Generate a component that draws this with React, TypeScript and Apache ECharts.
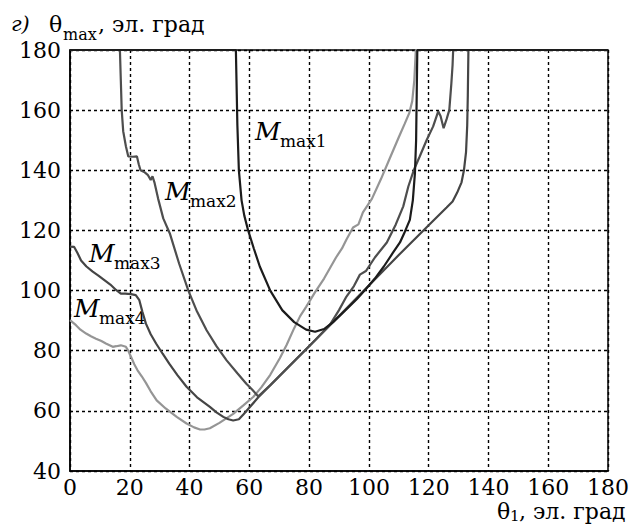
import React, { useEffect, useRef } from "react";
import * as echarts from "echarts";

const xTicks = [0, 20, 40, 60, 80, 100, 120, 140, 160, 180];
const yTicks = [40, 60, 80, 100, 120, 140, 160, 180];

const m1: number[][] = [
  [0, 180], [55.5, 180], [55.7, 170], [56, 155], [56.5, 140], [57.4, 130], [58.3, 125], [59.6, 120],
  [61.5, 114], [63.5, 108], [67, 100], [71, 93.5], [75, 89.5], [79, 87], [82, 86.3], [85, 87.2],
  [88, 89.5], [92, 93.3], [96, 97.2], [99, 100.5], [102, 104], [105, 108], [108, 112.5], [110.4, 116],
  [112, 119.5], [113.7, 123.5], [114.7, 130], [115.4, 139], [115.8, 150], [116, 165], [116.2, 180], [180, 180],
];

const m2: number[][] = [
  [0, 180], [16.7, 180], [17, 170], [17.3, 160], [17.8, 153], [18.7, 148], [19.5, 144.6], [21, 144.5],
  [22.4, 144.6], [23, 142], [23.6, 140], [25, 139.3], [26, 138.5], [27, 136.8], [27.6, 138], [28.3, 135.8],
  [29.5, 130.5], [31.2, 124], [33.4, 119], [36.5, 109], [39.6, 100], [42.5, 93], [45.7, 86.8], [49, 81.5],
  [52.4, 76.8], [56, 72.5], [59, 69], [61, 67], [63, 64.8], [67, 68.5], [72, 73.5], [77, 78.5], [82, 83.5],
  [87, 88.7], [90, 93.5], [92.5, 98], [95, 101.5], [97, 105.3], [99, 106.5], [102, 111], [106, 116],
  [109, 122], [111.5, 128], [113.2, 134.6], [115, 140], [117, 144.6], [119.3, 150], [121.5, 154.6],
  [123.2, 159.6], [124, 158], [125, 154], [126, 157], [126.9, 160], [127.6, 169], [128, 175], [128.2, 180],
  [180, 180],
];

const m3: number[][] = [
  [0, 114.6], [1.4, 114.5], [2.5, 112.5], [3.7, 110], [5.5, 108], [7.6, 106.3], [9.5, 105], [11.5, 103.5],
  [13.5, 102], [15.4, 100.2], [17, 99], [18.5, 99], [20.4, 98.8], [22, 98.5], [23.2, 96.8], [24.2, 93],
  [25.4, 89], [27, 85.5], [28.8, 82.4], [31, 79], [33.2, 75.7], [36, 71.8], [39, 68], [42.5, 64.5],
  [46.8, 61.3], [49, 59.5], [51.3, 58], [53, 57.2], [54.6, 56.8], [56.5, 57.2], [58, 58.8], [63, 64.5],
  [70, 71.5], [80, 81.5], [90, 91.5], [100, 101.7], [110, 111.8], [120, 121.7], [126, 127.6], [128, 129.6],
  [129.5, 132.5], [131, 136], [131.8, 140], [132.5, 146], [132.9, 155], [133.1, 165], [133.3, 180], [180, 180],
];

const m4: number[][] = [
  [0, 90.2], [2, 88.5], [3.5, 87], [5.4, 85.7], [7, 84.8], [8.7, 84], [10.5, 83.2], [12, 82.4],
  [14.3, 81.3], [15.5, 81.5], [17, 81.8], [18.7, 81.3], [19.5, 80], [20.4, 78], [21.5, 75.5], [22.6, 73.5],
  [24, 71.5], [25.4, 69.3], [27, 66.5], [29, 63.5], [32, 60.8], [35.7, 58], [39, 55.8], [41.5, 54.5],
  [43.5, 53.8], [45, 53.8], [46.8, 54.2], [50, 56], [54.6, 59], [58, 61.8], [61.3, 64.6], [64, 67.8],
  [67, 72], [70.2, 77.5], [72.5, 82], [75, 87.5], [77, 91.5], [79, 94.6], [82, 99.5], [85, 104],
  [87, 107.5], [89, 111], [91, 114], [92.5, 117], [94.7, 121], [96.5, 122], [98, 126], [101, 130.5],
  [104, 137], [107, 144], [110, 151], [112, 155.5], [113.5, 159], [114.5, 163], [115.2, 170], [115.7, 180],
  [180, 180],
];

const seriesNames = ["M_max1", "M_max2", "M_max3", "M_max4"];
const seriesData = [m1, m2, m3, m4];
const seriesColors = ["#1c1c1c", "#4e4e4e", "#454545", "#959595"];

const FAMILY = "DejaVu Serif";

function txt(x: number, y: number, text: string, size: number, italic = false) {
  return {
    type: "text",
    x,
    y,
    style: {
      text,
      fontFamily: FAMILY,
      fontSize: size,
      fontStyle: italic ? "italic" : "normal",
      fill: "#000",
      align: "left",
      verticalAlign: "middle",
    },
  };
}

function mLabel(x: number, baseline: number, sub: string) {
  return [txt(x, baseline - 8.5, "M", 25, true), txt(x + 25, baseline + 7 - 6, sub, 17)];
}

export default function App() {
  const ref = useRef<HTMLDivElement>(null);
  useEffect(() => {
    if (!ref.current) return;
    const chart = echarts.init(ref.current, null, { renderer: "svg" });
    const series = seriesData
      .map((d, i) => ({
        name: seriesNames[i],
        type: "line",
        data: d,
        showSymbol: false,
        clip: false,
        z: 10 - i,
        lineStyle: { color: seriesColors[i], width: 2.2 },
        itemStyle: { color: seriesColors[i] },
      }))
      .reverse();

    chart.setOption({
      animation: false,
      backgroundColor: "#fff",
      textStyle: { fontFamily: FAMILY },
      grid: {
        left: 70,
        right: 32,
        top: 50,
        bottom: 54,
        show: true,
        borderColor: "#000",
        borderWidth: 1.5,
        backgroundColor: "transparent",
      },
      xAxis: {
        type: "value",
        min: xTicks[0],
        max: xTicks[xTicks.length - 1],
        interval: 20,
        axisLine: { show: true, lineStyle: { color: "#000", width: 1.5 } },
        axisTick: { show: false },
        axisLabel: { color: "#000", fontSize: 22, fontFamily: FAMILY, margin: 6, lineHeight: 20 },
        splitLine: { show: true, lineStyle: { color: "#000", type: [3, 3], width: 1.4 } },
      },
      yAxis: {
        type: "value",
        min: yTicks[0],
        max: yTicks[yTicks.length - 1],
        interval: 20,
        axisLine: { show: true, lineStyle: { color: "#000", width: 1.5 } },
        axisTick: { show: false },
        axisLabel: { color: "#000", fontSize: 22, fontFamily: FAMILY, margin: 9 },
        splitLine: { show: true, lineStyle: { color: "#000", type: [3, 3], width: 1.4 } },
      },
      series,
      graphic: [
        txt(11, 24, "г)", 21, true),
        txt(49, 24, "θ", 22),
        txt(63, 34, "max", 16),
        txt(98, 24, ", эл. град", 22),
        txt(497, 511, "θ", 22),
        txt(510, 516, "1", 15),
        txt(519, 511, ", эл. град", 22),
        ...mLabel(255, 140, "max1"),
        ...mLabel(165, 200, "max2"),
        ...mLabel(89, 262, "max3"),
        ...mLabel(74, 317, "max4"),
      ],
    });
    return () => chart.dispose();
  }, []);
  return <div ref={ref} style={{ width: 640, height: 525, position: "absolute", left: 0, top: 0 }} />;
}
